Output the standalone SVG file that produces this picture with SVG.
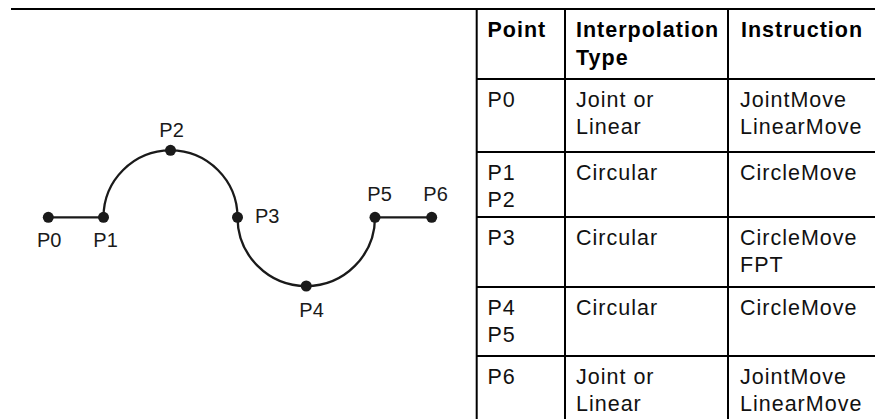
<svg xmlns="http://www.w3.org/2000/svg" width="875" height="419" viewBox="0 0 875 419">
<style>
.lbl{font-family:"Liberation Sans",Arial,sans-serif;font-size:20px;fill:#1a1a1a}
.dot{fill:#1a1a1a}
.conn{fill:none;stroke:#1a1a1a;stroke-width:2.3}
.grid{stroke:#000;stroke-width:2;fill:none}
.th{font-family:"Liberation Sans",Arial,sans-serif;font-size:21.5px;font-weight:bold;letter-spacing:1px;fill:#000}
.td{font-family:"Liberation Sans",Arial,sans-serif;font-size:21.5px;letter-spacing:1px;fill:#111}
</style>
<rect width="875" height="419" fill="#fff"/>
<line class="grid" x1="11" y1="9" x2="875" y2="9"/>
<g id="connectors">
<path class="conn" d="M48.3,217.3 L103.5,217.3"/>
<path class="conn" d="M103.5,217.3 A67,67 0 0 1 237.5,217.3"/>
<path class="conn" d="M237.5,217.3 A68.75,68.75 0 0 0 375,217.3"/>
<path class="conn" d="M375,217.3 L431.7,217.3"/>
</g>
<g id="P0"><circle class="dot" cx="48.3" cy="217.3" r="5.5"/><text class="lbl" x="37" y="247.3">P0</text></g>
<g id="P1"><circle class="dot" cx="103.5" cy="217.3" r="5.5"/><text class="lbl" x="93.3" y="247.3">P1</text></g>
<g id="P2"><circle class="dot" cx="170.5" cy="150.3" r="5.5"/><text class="lbl" x="159.3" y="136.7">P2</text></g>
<g id="P3"><circle class="dot" cx="237.5" cy="217.3" r="5.5"/><text class="lbl" x="255" y="222.7">P3</text></g>
<g id="P4"><circle class="dot" cx="306.25" cy="286" r="5.5"/><text class="lbl" x="299.3" y="316.5">P4</text></g>
<g id="P5"><circle class="dot" cx="375" cy="217.3" r="5.5"/><text class="lbl" x="367.3" y="201">P5</text></g>
<g id="P6"><circle class="dot" cx="431.7" cy="217.3" r="5.5"/><text class="lbl" x="423.3" y="201">P6</text></g>
<g id="table">
<line class="grid" x1="476.7" y1="9" x2="476.7" y2="419"/>
<line class="grid" x1="565" y1="9" x2="565" y2="419"/>
<line class="grid" x1="728" y1="9" x2="728" y2="419"/>
<line class="grid" x1="476.7" y1="79" x2="875" y2="79"/>
<line class="grid" x1="476.7" y1="152" x2="875" y2="152"/>
<line class="grid" x1="476.7" y1="217" x2="875" y2="217"/>
<line class="grid" x1="476.7" y1="287" x2="875" y2="287"/>
<line class="grid" x1="476.7" y1="356" x2="875" y2="356"/>
<text class="th" x="487.5" y="37">Point</text>
<text class="th" x="576" y="37">Interpolation</text>
<text class="th" x="576" y="64.5">Type</text>
<text class="th" x="741" y="37">Instruction</text>
<text class="td" x="487.5" y="106.5">P0</text>
<text class="td" x="576" y="106.5">Joint or</text>
<text class="td" x="576" y="134">Linear</text>
<text class="td" x="740" y="106.5">JointMove</text>
<text class="td" x="740" y="134">LinearMove</text>
<text class="td" x="487.5" y="179.5">P1</text>
<text class="td" x="487.5" y="207">P2</text>
<text class="td" x="576" y="179.5">Circular</text>
<text class="td" x="740" y="179.5">CircleMove</text>
<text class="td" x="487.5" y="244.5">P3</text>
<text class="td" x="576" y="244.5">Circular</text>
<text class="td" x="740" y="244.5">CircleMove</text>
<text class="td" x="740" y="272">FPT</text>
<text class="td" x="487.5" y="314.5">P4</text>
<text class="td" x="487.5" y="342">P5</text>
<text class="td" x="576" y="314.5">Circular</text>
<text class="td" x="740" y="314.5">CircleMove</text>
<text class="td" x="487.5" y="383.5">P6</text>
<text class="td" x="576" y="383.5">Joint or</text>
<text class="td" x="576" y="411">Linear</text>
<text class="td" x="740" y="383.5">JointMove</text>
<text class="td" x="740" y="411">LinearMove</text>
</g>
</svg>
